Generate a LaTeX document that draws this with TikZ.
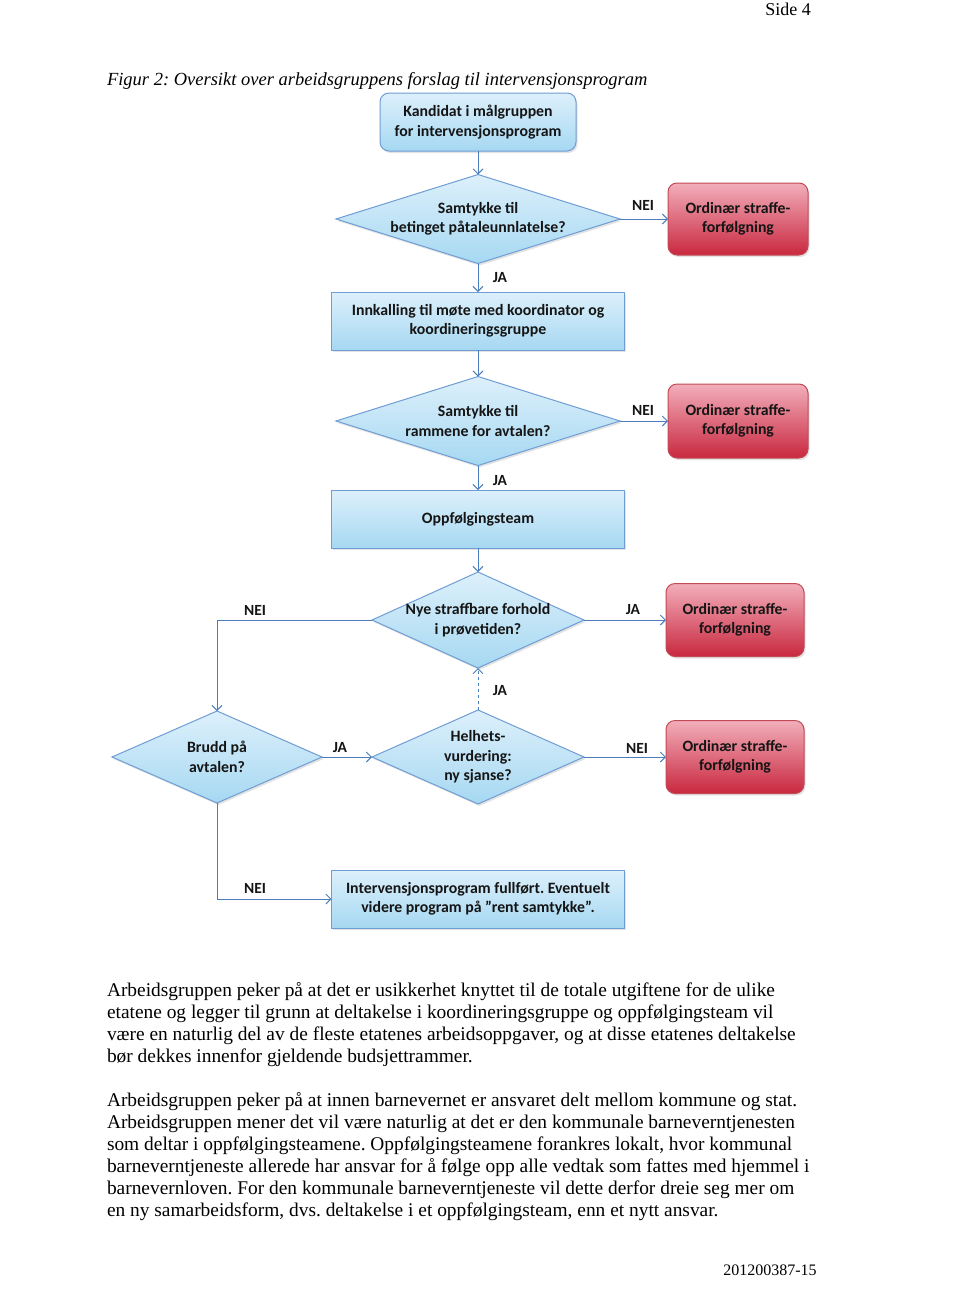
\documentclass[tikz,border=0pt]{standalone}
\usepackage{fontspec}
\setmainfont{Liberation Serif}
\newfontfamily\calfont{Carlito}
\usetikzlibrary{arrows.meta,shapes.geometric,shadows}
\frenchspacing
\definecolor{lineblue}{HTML}{4A7EBB}
\definecolor{boxtop}{HTML}{DDF0FB}
\definecolor{boxbot}{HTML}{A6D8F2}
\definecolor{boxedge}{HTML}{6F9DD4}
\definecolor{redtop}{HTML}{F2AEBB}
\definecolor{redmid}{HTML}{E26A7E}
\definecolor{redbot}{HTML}{C9283F}
\definecolor{rededge}{HTML}{C24A55}
\definecolor{txt}{HTML}{151515}
\begin{document}
\begin{tikzpicture}[x=1pt,y=-1pt,
  every node/.style={inner sep=0pt, outer sep=0pt},
  flowtxt/.style={font=\calfont\bfseries\fontsize{15.8}{19.5}\selectfont, text=txt, align=center},
  lbl/.style={font=\calfont\bfseries\fontsize{15.5}{18}\selectfont, text=txt},
  softshadow/.style={drop shadow={shadow xshift=1.5pt, shadow yshift=-2pt, opacity=0.22, fill=gray}},
  bluebox/.style={flowtxt, draw=boxedge, line width=1pt, top color=boxtop, bottom color=boxbot, softshadow},
  roundblue/.style={bluebox, rounded corners=9pt},
  redbox/.style={flowtxt, draw=rededge, line width=1pt, top color=redtop, middle color=redmid, bottom color=redbot, rounded corners=9pt, softshadow},
  decision/.style={shape=diamond, draw=boxedge, line width=1pt, top color=boxtop, bottom color=boxbot, softshadow},
  conn/.style={draw=lineblue, line width=0.9pt, -{Straight Barb[length=5pt,width=10pt]}},
  body/.style={font=\fontsize{19.4}{22}\selectfont, align=left, anchor=north west}
]
\useasboundingbox (0,0) rectangle (960,1315);
\fill[white] (0,0) rectangle (960,1315);

% header
\node[font=\fontsize{18}{22}\selectfont, anchor=base] (side) at (788,15) {Side 4};
\node[font=\itshape\fontsize{18.5}{22}\selectfont, anchor=base west] (cap) at (107,85) {Figur 2: Oversikt over arbeidsgruppens forslag til intervensjonsprogram};

% boxes
\node[roundblue, minimum width=196, minimum height=58] (b1) at (478,122) {Kandidat i målgruppen\\for intervensjonsprogram};
\node[redbox, minimum width=140, minimum height=72] (r1) at (738,219) {Ordinær straffe-\\forfølgning};
\node[bluebox, minimum width=293, minimum height=58] (b2) at (478,321) {Innkalling til møte med koordinator og\\koordineringsgruppe};
\node[redbox, minimum width=140, minimum height=74] (r2) at (738,421) {Ordinær straffe-\\forfølgning};
\node[bluebox, minimum width=293, minimum height=58] (b3) at (478,519) {Oppfølgingsteam};
\node[redbox, minimum width=138, minimum height=73] (r3) at (735,620) {Ordinær straffe-\\forfølgning};
\node[redbox, minimum width=138, minimum height=73] (r4) at (735,757) {Ordinær straffe-\\forfølgning};
\node[bluebox, minimum width=293, minimum height=58] (b5) at (478,899) {Intervensjonsprogram fullført. Eventuelt\\videre program på ”rent samtykke”.};

% decisions (shape) and their texts
\node[decision, aspect=3.19, minimum width=284, minimum height=89] (d1) at (478,219) {};
\node[flowtxt] (d1t) at (478,219) {Samtykke til\\betinget påtaleunnlatelse?};
\node[decision, aspect=3.19, minimum width=284, minimum height=89] (d2) at (478,421) {};
\node[flowtxt] (d2t) at (478,421) {Samtykke til\\rammene for avtalen?};
\node[decision, aspect=2.21, minimum width=212, minimum height=96] (d3) at (478,620) {};
\node[flowtxt] (d3t) at (478,620) {Nye straffbare forhold\\i prøvetiden?};
\node[decision, aspect=2.26, minimum width=212, minimum height=94] (d4) at (478,757) {};
\node[flowtxt] (d4t) at (478,757) {Helhets-\\vurdering:\\ny sjanse?};
\node[decision, aspect=2.28, minimum width=210, minimum height=92] (d5) at (217,757) {};
\node[flowtxt] (d5t) at (217,757) {Brudd på\\avtalen?};

% connectors
\draw[conn] (b1.south) -- (d1.north);
\draw[conn] (d1.east) -- (r1.west);
\draw[conn] (d1.south) -- (b2.north);
\draw[conn] (b2.south) -- (d2.north);
\draw[conn] (d2.east) -- (r2.west);
\draw[conn] (d2.south) -- (b3.north);
\draw[conn] (b3.south) -- (d3.north);
\draw[conn] (d3.east) -- (r3.west);
\draw[conn] (d3.west) -| (d5.north);
\draw[conn] (d5.east) -- (d4.west);
\draw[conn] (d4.east) -- (r4.west);
\draw[conn, dashed] (d4.north) -- (d3.south);
\draw[conn] (d5.south) |- (b5.west);

% labels
\node[lbl] (l1) at (643,205) {NEI};
\node[lbl] (l2) at (500,278) {JA};
\node[lbl] (l3) at (643,410) {NEI};
\node[lbl] (l4) at (500,481) {JA};
\node[lbl] (l5) at (255,610) {NEI};
\node[lbl] (l6) at (633,610) {JA};
\node[lbl] (l7) at (500,691) {JA};
\node[lbl] (l8) at (340,748) {JA};
\node[lbl] (l9) at (637,748) {NEI};
\node[lbl] (l10) at (255,888) {NEI};

% body text
\node[body] (p1) at (107,982) {Arbeidsgruppen peker på at det er usikkerhet knyttet til de totale utgiftene for de ulike\\
etatene og legger til grunn at deltakelse i koordineringsgruppe og oppfølgingsteam vil\\
være en naturlig del av de fleste etatenes arbeidsoppgaver, og at disse etatenes deltakelse\\
bør dekkes innenfor gjeldende budsjettrammer.};
\node[body] (p2) at (107,1092) {Arbeidsgruppen peker på at innen barnevernet er ansvaret delt mellom kommune og stat.\\
Arbeidsgruppen mener det vil være naturlig at det er den kommunale barneverntjenesten\\
som deltar i oppfølgingsteamene. Oppfølgingsteamene forankres lokalt, hvor kommunal\\
barneverntjeneste allerede har ansvar for å følge opp alle vedtak som fattes med hjemmel i\\
barnevernloven. For den kommunale barneverntjeneste vil dette derfor dreie seg mer om\\
en ny samarbeidsform, dvs. deltakelse i et oppfølgingsteam, enn et nytt ansvar.};

% footer
\node[font=\fontsize{16}{20}\selectfont, anchor=base] (foot) at (770,1275) {201200387-15};
\end{tikzpicture}
\end{document}
